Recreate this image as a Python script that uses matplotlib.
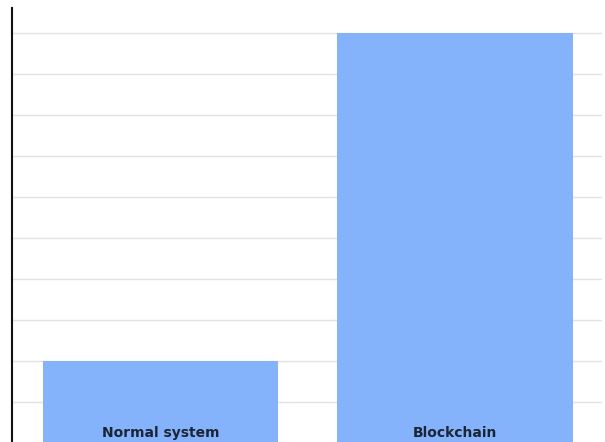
import matplotlib.pyplot as plt

# Dati del grafico
categories = ["Normal system", "Blockchain"]
values = [2, 10]
gridlines = [1, 2, 3, 4, 5, 6, 7, 8, 9, 10]

def main():
    fig = plt.figure(figsize=(6.05, 4.42), dpi=100)
    # posizione assi in pixel: x 12..602, y 0 a 443 (appena sotto il bordo)
    ax = fig.add_axes([12 / 605, -1 / 442, 590 / 605, 435 / 442])

    positions = list(range(len(categories)))
    ax.bar(positions, values, width=0.8, color="#85b3fb", zorder=2)

    # linee orizzontali della griglia
    for g in gridlines:
        ax.axhline(g, color="#e2e2e2", linewidth=1.0, zorder=1)

    # etichette dentro le barre, in basso
    for x, name in zip(positions, categories):
        ax.text(x, 0.25, name, ha="center", va="center", fontsize=10,
                fontweight="bold", color="#1c2536", family="DejaVu Sans",
                zorder=3)

    ax.set_xlim(-0.505, 1.5)
    ax.set_ylim(0, 10.6)
    ax.set_xticks([])
    ax.set_yticks([])
    for side in ["top", "right", "bottom"]:
        ax.spines[side].set_visible(False)
    ax.spines["left"].set_linewidth(1.5)
    ax.spines["left"].set_color("#111111")

    fig.savefig("out.png", dpi=100)

if __name__ == "__main__":
    main()
